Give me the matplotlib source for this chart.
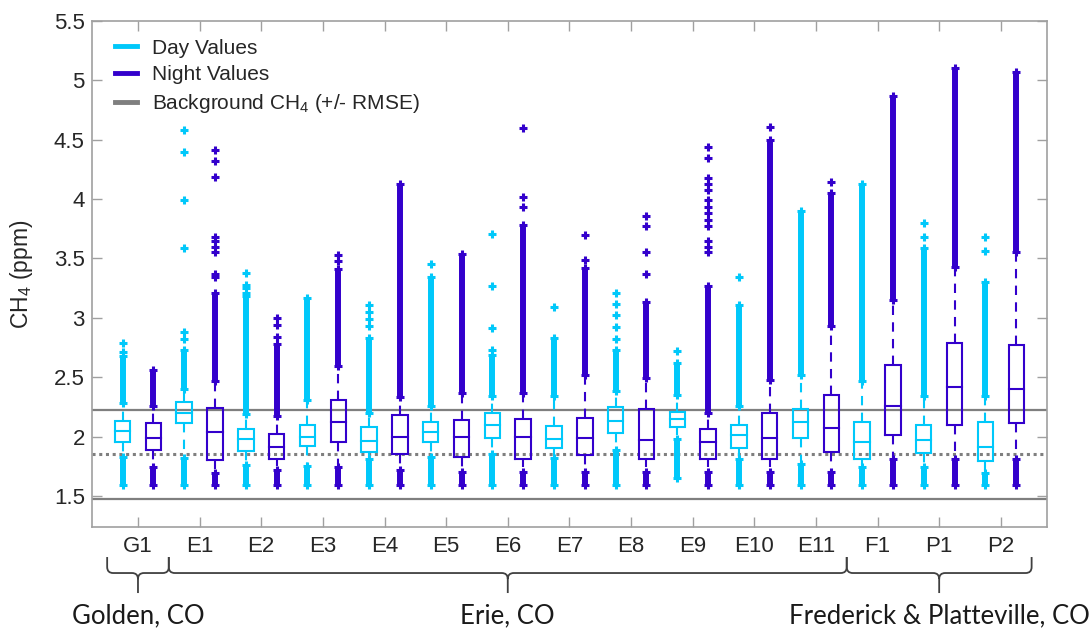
import matplotlib
matplotlib.use("Agg")
import matplotlib.pyplot as plt
from matplotlib.lines import Line2D
from matplotlib.path import Path
from matplotlib.patches import PathPatch
import matplotlib.transforms as mtransforms

plt.rcParams['font.family'] = ['Liberation Sans', 'DejaVu Sans']
plt.rcParams['mathtext.fontset'] = 'custom'
plt.rcParams['mathtext.rm'] = 'Liberation Sans'
plt.rcParams['mathtext.it'] = 'Liberation Sans:italic'
plt.rcParams['mathtext.bf'] = 'Liberation Sans:bold'

# ---------------- data ----------------
sites = ['G1', 'E1', 'E2', 'E3', 'E4', 'E5', 'E6', 'E7', 'E8', 'E9', 'E10', 'E11', 'F1', 'P1', 'P2']
group_names = ['Golden, CO', 'Erie, CO', 'Frederick & Platteville, CO']
group_first = [0, 1, 12]
group_last = [0, 11, 14]

bg_mean = 1.85
bg_rmse = 0.375

# Day boxes
day_q1 = [1.95, 2.11, 1.88, 1.92, 1.87, 1.95, 1.99, 1.90, 2.03, 2.08, 1.90, 1.99, 1.81, 1.86, 1.79]
day_med = [2.05, 2.20, 1.98, 2.00, 1.96, 2.04, 2.10, 1.98, 2.13, 2.15, 2.01, 2.12, 1.95, 1.97, 1.91]
day_q3 = [2.13, 2.29, 2.06, 2.10, 2.08, 2.12, 2.20, 2.09, 2.25, 2.21, 2.10, 2.23, 2.12, 2.10, 2.12]
day_wlo = [1.85, 1.84, 1.78, 1.77, 1.83, 1.85, 1.87, 1.84, 1.91, 2.01, 1.83, 1.79, 1.76, 1.76, 1.71]
day_whi = [2.26, 2.38, 2.17, 2.29, 2.18, 2.24, 2.32, 2.32, 2.36, 2.33, 2.24, 2.50, 2.45, 2.32, 2.32]
day_lo_top = [1.83, 1.82, 1.76, 1.75, 1.81, 1.83, 1.85, 1.82, 1.89, 1.975, 1.81, 1.77, 1.74, 1.74, 1.69]
day_lo_bot = [1.59, 1.59, 1.59, 1.59, 1.59, 1.59, 1.59, 1.59, 1.59, 1.65, 1.59, 1.59, 1.59, 1.59, 1.59]
day_hi_bot = [2.28, 2.40, 2.19, 2.31, 2.20, 2.26, 2.34, 2.34, 2.38, 2.35, 2.26, 2.52, 2.47, 2.34, 2.34]
day_hi_top = [2.68, 2.73, 3.18, 3.17, 2.83, 3.34, 2.69, 2.83, 2.73, 2.62, 3.11, 3.90, 4.13, 3.59, 3.30]
day_iso = [
    [2.71, 2.79],
    [2.82, 2.88, 3.59, 3.99, 4.40, 4.58],
    [3.21, 3.25, 3.28, 3.38],
    [],
    [2.93, 2.99, 3.05, 3.11],
    [3.45],
    [2.73, 2.91, 3.27, 3.71],
    [3.09],
    [2.82, 2.92, 3.02, 3.12, 3.21],
    [2.72],
    [3.34],
    [],
    [],
    [3.68, 3.80],
    [3.56, 3.68],
]

# Night boxes
night_q1 = [1.89, 1.80, 1.81, 1.95, 1.85, 1.83, 1.81, 1.84, 1.81, 1.81, 1.81, 1.87, 2.01, 2.10, 2.11]
night_med = [1.99, 2.04, 1.91, 2.12, 2.00, 2.00, 2.00, 1.99, 1.97, 1.95, 1.99, 2.07, 2.26, 2.42, 2.40]
night_q3 = [2.11, 2.24, 2.02, 2.31, 2.18, 2.14, 2.15, 2.16, 2.23, 2.06, 2.20, 2.35, 2.60, 2.79, 2.77]
night_wlo = [1.77, 1.73, 1.75, 1.77, 1.75, 1.74, 1.74, 1.74, 1.74, 1.74, 1.74, 1.74, 1.83, 1.83, 1.83]
night_whi = [2.24, 2.45, 2.15, 2.57, 2.31, 2.35, 2.35, 2.50, 2.47, 2.18, 2.46, 2.91, 3.13, 3.41, 3.53]
night_lo_top = [1.74, 1.69, 1.72, 1.74, 1.72, 1.70, 1.70, 1.70, 1.70, 1.70, 1.70, 1.70, 1.81, 1.81, 1.81]
night_lo_bot = [1.59, 1.59, 1.59, 1.59, 1.59, 1.59, 1.59, 1.59, 1.59, 1.59, 1.59, 1.59, 1.59, 1.59, 1.59]
night_hi_bot = [2.26, 2.47, 2.17, 2.59, 2.33, 2.37, 2.37, 2.52, 2.49, 2.20, 2.48, 2.93, 3.15, 3.43, 3.55]
night_hi_top = [2.56, 3.21, 2.78, 3.41, 4.13, 3.54, 3.78, 3.42, 3.13, 3.27, 4.50, 4.05, 4.87, 5.10, 5.07]
night_iso = [
    [],
    [3.34, 3.37, 3.55, 3.60, 3.65, 3.68, 4.19, 4.32, 4.41],
    [2.84, 2.94, 3.00],
    [3.48, 3.53],
    [],
    [],
    [3.93, 4.02, 4.60],
    [3.49, 3.70],
    [3.37, 3.55, 3.77, 3.86],
    [3.55, 3.60, 3.65, 3.77, 3.82, 3.88, 3.93, 3.99, 4.08, 4.13, 4.18, 4.35, 4.44],
    [4.61],
    [4.14],
    [],
    [],
    [],
]

yticks = [1.5, 2, 2.5, 3, 3.5, 4, 4.5, 5, 5.5]
ytick_labels = ['1.5', '2', '2.5', '3', '3.5', '4', '4.5', '5', '5.5']

# ---------------- style ----------------
DAY = '#00C8FA'
NIGHT = '#3300CC'
GRAY = '#7F7F7F'
SPINE = '#A0A0A0'
TXT = '#262626'

fig = plt.figure(figsize=(10.91, 6.29), dpi=100)
ax = fig.add_axes([0.0841, 0.1626, 0.8756, 0.804])

offset = 0.25
half_w = 0.125
dash = (0, (4.5, 3.5))


def draw_box(x, q1, med, q3, wlo, whi, lo_top, lo_bot, hi_bot, hi_top, iso, color):
    # whiskers (dashed)
    ax.plot([x, x], [q3, whi], color=color, lw=1.5, ls=dash, zorder=3)
    ax.plot([x, x], [q1, wlo], color=color, lw=1.5, ls=dash, zorder=3)
    # box
    ax.plot([x - half_w, x + half_w, x + half_w, x - half_w, x - half_w],
            [q1, q1, q3, q3, q1], color=color, lw=1.5, zorder=4,
            solid_joinstyle='miter')
    ax.plot([x - half_w, x + half_w], [med, med], color=color, lw=1.5, zorder=4)
    # dense outlier columns
    ax.vlines([x, x], [lo_bot, hi_bot], [lo_top, hi_top], colors=color, lw=4.3, zorder=5)
    ends = [lo_bot, lo_top, hi_bot, hi_top]
    ax.plot([x] * len(ends), ends, ls='none', marker='+', ms=6, mew=2.2,
            color=color, zorder=5)
    if iso:
        ax.plot([x] * len(iso), iso, ls='none', marker='+', ms=6, mew=2.2,
                color=color, zorder=5)


for i in range(len(sites)):
    pos = i + 1
    draw_box(pos - offset, day_q1[i], day_med[i], day_q3[i], day_wlo[i], day_whi[i],
             day_lo_top[i], day_lo_bot[i], day_hi_bot[i], day_hi_top[i], day_iso[i], DAY)
    draw_box(pos + offset, night_q1[i], night_med[i], night_q3[i], night_wlo[i], night_whi[i],
             night_lo_top[i], night_lo_bot[i], night_hi_bot[i], night_hi_top[i], night_iso[i], NIGHT)

# background lines
ax.axhline(bg_mean + bg_rmse, color=GRAY, lw=1.6, zorder=2)
ax.axhline(bg_mean - bg_rmse, color=GRAY, lw=1.6, zorder=2)
ax.axhline(bg_mean, color=GRAY, lw=2.2, ls=(0, (1, 1.2)), zorder=2)

ax.set_xlim(0.25, 15.75)
ax.set_ylim(1.24, 5.5)
ax.set_xticks(range(1, len(sites) + 1))
ax.set_xticklabels(sites)
ax.set_yticks(yticks)
ax.set_yticklabels(ytick_labels)
ax.tick_params(axis='both', direction='in', top=True, right=True, length=7,
               width=1.0, color=SPINE, labelsize=16, labelcolor=TXT)
ax.tick_params(axis='x', pad=7)
ax.tick_params(axis='y', pad=5)
for sp in ax.spines.values():
    sp.set_color(SPINE)
    sp.set_linewidth(1.2)

ax.set_ylabel('CH$_4$ (ppm)', fontsize=16.5, color=TXT)
ax.yaxis.set_label_coords(-0.059, 0.5)

# legend
handles = [Line2D([], [], color=DAY, lw=3.5),
           Line2D([], [], color=NIGHT, lw=3.5),
           Line2D([], [], color=GRAY, lw=3.5)]
labels = ['Day Values', 'Night Values', 'Background CH$_4$ (+/- RMSE)']
leg = ax.legend(handles, labels, loc='upper left', bbox_to_anchor=(0.0244, 0.965),
                frameon=False, fontsize=15, handlelength=1.05, handletextpad=0.72,
                labelspacing=0.37, borderpad=0, borderaxespad=0)
for t in leg.get_texts():
    t.set_color(TXT)

# group braces under the axis
trans = mtransforms.blended_transform_factory(ax.transData, ax.transAxes)
px_x = 61.6      # pixels per site unit
px_y = 505.7     # pixels per axes height
rx = 6 / px_x
ry = 6 / px_y
y_arm = -(557 - 526.7) / px_y
y_h = -(573 - 526.7) / px_y
y_tip = -(593 - 526.7) / px_y
y_lab = -(623 - 526.7) / px_y

for name, g0, g1 in zip(group_names, group_first, group_last):
    a = g0 + 1 - 0.5
    b = g1 + 1 + 0.5
    c = (g0 + g1) / 2 + 1
    verts = [(a, y_arm), (a, y_h + ry), (a, y_h), (a + rx, y_h), (c - rx, y_h),
             (c, y_h), (c, y_h - ry), (c, y_tip),
             (b, y_arm), (b, y_h + ry), (b, y_h), (b - rx, y_h), (c + rx, y_h),
             (c, y_h), (c, y_h - ry)]
    codes = [Path.MOVETO, Path.LINETO, Path.CURVE3, Path.CURVE3, Path.LINETO,
             Path.CURVE3, Path.CURVE3, Path.LINETO,
             Path.MOVETO, Path.LINETO, Path.CURVE3, Path.CURVE3, Path.LINETO,
             Path.CURVE3, Path.CURVE3]
    patch = PathPatch(Path(verts, codes), transform=trans, fill=False,
                      edgecolor='#404040', lw=1.3, clip_on=False)
    ax.add_patch(patch)
    ax.text(c, y_lab, name, transform=trans, ha='center', va='baseline',
            fontsize=18.5, family=['Lato', 'DejaVu Sans'], color='#1A1A1A')

fig.savefig('out.png', dpi=100)
